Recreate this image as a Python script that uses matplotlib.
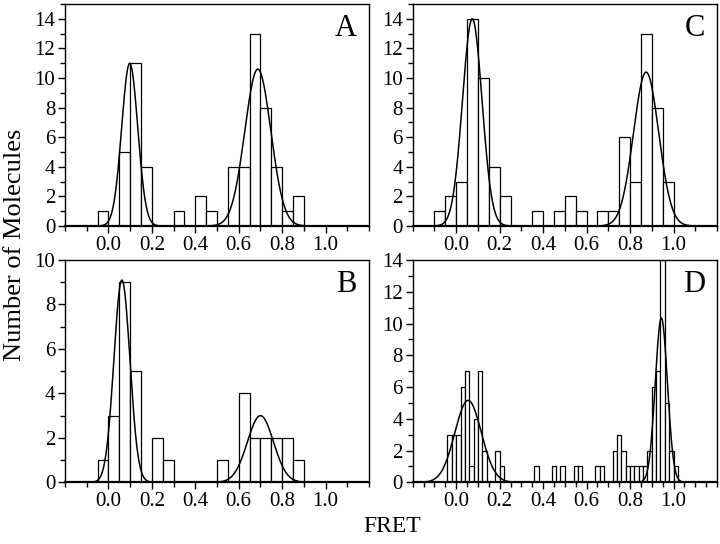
import numpy as np
import matplotlib

matplotlib.use('Agg')
import matplotlib.pyplot as plt
from matplotlib.ticker import MultipleLocator

plt.rcParams['font.family'] = ['Liberation Serif', 'DejaVu Serif']

# ── histogram data (bin left edge, count) ──
a_left = [-0.05, 0.05, 0.10, 0.15, 0.30, 0.40, 0.45, 0.55, 0.60, 0.65, 0.70, 0.75, 0.80, 0.85]
a_count = [1, 5, 11, 4, 1, 2, 1, 4, 4, 13, 8, 4, 1, 2]

b_left = [-0.05, 0.00, 0.05, 0.10, 0.20, 0.25, 0.50, 0.60, 0.65, 0.70, 0.75, 0.80, 0.85]
b_count = [1, 3, 9, 5, 2, 1, 1, 4, 2, 2, 2, 2, 1]

c_left = [-0.10, -0.05, 0.00, 0.05, 0.10, 0.15, 0.20, 0.35, 0.45, 0.50, 0.55,
          0.65, 0.70, 0.75, 0.80, 0.85, 0.90, 0.95]
c_count = [1, 2, 3, 14, 10, 4, 2, 1, 1, 2, 1, 1, 1, 6, 3, 13, 8, 3]

d_left = [-0.04, -0.02, 0.00, 0.02, 0.04, 0.06, 0.08, 0.10, 0.12, 0.18, 0.20,
          0.36, 0.44, 0.48, 0.54, 0.56, 0.64, 0.66,
          0.72, 0.74, 0.76, 0.78, 0.80, 0.82, 0.84, 0.86, 0.88,
          0.90, 0.92, 0.94, 0.96, 0.98, 1.00]
d_count = [3, 3, 3, 6, 7, 1, 4, 7, 2, 2, 1,
           1, 1, 1, 1, 1, 1, 1,
           2, 3, 2, 1, 1, 1, 1, 1, 2,
           6, 7, 14, 5, 2, 1]

# gaussian fits: (amplitude, centre, sigma)
a_fits = [(11.0, 0.098, 0.037), (10.6, 0.688, 0.060)]
b_fits = [(9.1, 0.062, 0.037), (3.0, 0.700, 0.060)]
c_fits = [(14.0, 0.074, 0.045), (10.4, 0.874, 0.058)]
d_fits = [(5.16, 0.055, 0.061), (10.35, 0.944, 0.028)]

panels = [
    # label, left, counts, width, fits, ymax, rect, xminor
    ('A', a_left, a_count, 0.05, a_fits, 15, [0.0903, 0.5846, 0.4222, 0.408], 0.1),
    ('C', c_left, c_count, 0.05, c_fits, 15, [0.5732, 0.5846, 0.4226, 0.408], 0.1),
    ('B', b_left, b_count, 0.05, b_fits, 10, [0.0903, 0.1134, 0.4222, 0.4086], 0.1),
    ('D', d_left, d_count, 0.02, d_fits, 14, [0.5732, 0.1134, 0.4226, 0.4086], 0.05),
]

fig = plt.figure(figsize=(7.2, 5.44), dpi=100)
xs = np.linspace(-0.2, 1.2, 800)

for label, left, counts, width, fits, ymax, rect, xminor in panels:
    ax = fig.add_axes(rect)
    ax.bar(left, counts, width=width, align='edge', facecolor='white',
           edgecolor='black', linewidth=0.9)
    for amp, mu, sig in fits:
        ax.plot(xs, amp * np.exp(-(xs - mu) ** 2 / (2 * sig ** 2)), color='black', lw=1.1)
    ax.set_xlim(-0.2, 1.2)
    ax.set_ylim(0, ymax)
    ax.set_xticks([0.0, 0.2, 0.4, 0.6, 0.8, 1.0])
    ax.set_xticklabels(['0.0', '0.2', '0.4', '0.6', '0.8', '1.0'])
    ax.xaxis.set_minor_locator(MultipleLocator(xminor))
    ax.yaxis.set_major_locator(MultipleLocator(2))
    ax.yaxis.set_minor_locator(MultipleLocator(1))
    ax.tick_params(axis='both', which='major', direction='out', length=5, width=1,
                   labelsize=15, pad=2)
    ax.tick_params(axis='both', which='minor', direction='out', length=3.5, width=1)
    for s in ax.spines.values():
        s.set_linewidth(1.0)
    ax.spines['bottom'].set_linewidth(1.6)
    ax.text(0.96, 0.955, label, transform=ax.transAxes, ha='right', va='top', fontsize=22)

fig.text(0.021, 0.55, 'Number of Molecules', rotation=90, ha='center', va='center', fontsize=19)
fig.text(0.545, 0.032, 'FRET', ha='center', va='center', fontsize=17)

plt.savefig('out.png', dpi=100)
plt.close()
